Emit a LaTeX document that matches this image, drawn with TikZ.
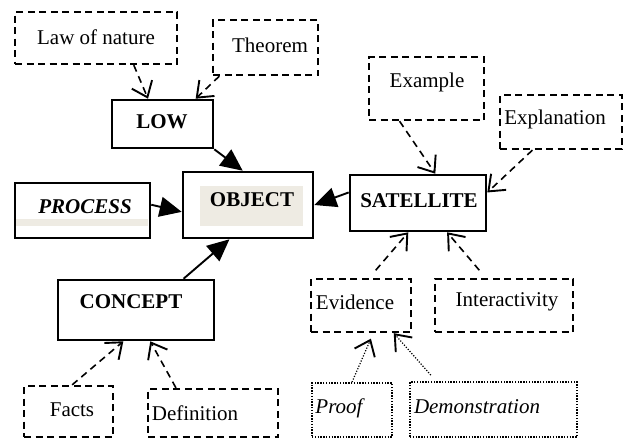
\documentclass[tikz,border=0pt]{standalone}
\usepackage{fontspec}
\setmainfont{Liberation Serif}
\usetikzlibrary{arrows.meta,calc}
\definecolor{shade}{HTML}{EEEBE3}
\begin{document}
\begin{tikzpicture}[x=1pt,y=-1pt,
  sbox/.style={draw,line width=2.6pt,inner sep=0pt},
  dbox/.style={draw,line width=2.3pt,dash pattern=on 7pt off 4.5pt,inner sep=0pt},
  obox/.style={draw,line width=1.8pt,dash pattern=on 1.4pt off 1.4pt,inner sep=0pt},
  txt/.style={font=\fontsize{21}{25}\selectfont,inner sep=0pt},
  btxt/.style={font=\fontsize{21}{25}\selectfont\bfseries,inner sep=0pt},
  solidarrow/.style={line width=1.9pt,-{Triangle[length=22pt,width=20pt]}},
  dasharrow/.style={line width=1.6pt,dash pattern=on 7pt off 5pt,-{Straight Barb[length=14pt,width=22pt,line width=1.9pt]}},
  dotarrow/.style={line width=1.2pt,dash pattern=on 1.2pt off 1.6pt,-{Straight Barb[length=14pt,width=22pt,line width=1.9pt]}},
  sz/.style 2 args={minimum width=#1,minimum height=#2}]
\useasboundingbox (0,0) rectangle (624,439);
% boxes
\node[dbox,sz={162pt}{52pt}] (law) at (96,38) {};
\node[txt] (lawt) at (96,37) {Law of nature};
\node[dbox,sz={105pt}{55pt}] (thm) at (265.5,47.5) {};
\node[txt] (thmt) at (270,45) {Theorem};
\node[sbox,sz={101pt}{48pt}] (low) at (162.5,124) {};
\node[btxt] (lowt) at (162,122) {LOW};
\node[sbox,sz={130pt}{66pt}] (obj) at (248,205) {};
\node[fill=shade,inner sep=0pt,sz={103pt}{40pt}] (objs) at (251.5,206) {};
\node[btxt] (objt) at (252,200) {OBJECT};
\node[sbox,sz={135pt}{55pt}] (proc) at (82.5,210.5) {};
\node[fill=shade,inner sep=0pt,sz={132pt}{7pt}] (procs) at (82,222.5) {};
\node[btxt,font=\fontsize{21}{25}\selectfont\bfseries\itshape] (proct) at (85,207) {PROCESS};
\node[sbox,sz={136pt}{56pt}] (sat) at (418,203) {};
\node[btxt] (satt) at (419,201) {SATELLITE};
\node[sbox,sz={156pt}{60pt}] (con) at (136,310) {};
\node[btxt] (cont) at (131,302) {CONCEPT};
\node[dbox,sz={115pt}{63pt}] (ex) at (426.5,88.5) {};
\node[txt] (ext) at (427,82) {Example};
\node[dbox,sz={122pt}{54pt}] (expl) at (561,122) {};
\node[txt] (explt) at (555,119) {Explanation};
\node[dbox,sz={100pt}{53pt}] (evid) at (361,305.5) {};
\node[txt] (evidt) at (355,302) {Evidence};
\node[dbox,sz={138pt}{53pt}] (inter) at (504,305.5) {};
\node[txt] (intert) at (507,302) {Interactivity};
\node[dbox,sz={89pt}{51pt}] (facts) at (68.5,411.5) {};
\node[txt] (factst) at (72,410) {Facts};
\node[dbox,sz={130pt}{48pt}] (def) at (213,413) {};
\node[txt] (deft) at (195,413) {Definition};
\node[obox,sz={80pt}{54pt}] (proof) at (352,410) {};
\node[txt,font=\fontsize{21}{25}\selectfont\itshape] (prooft) at (339,408) {Proof};
\node[obox,sz={167pt}{55pt}] (demo) at (493.5,409.5) {};
\node[txt,font=\fontsize{21}{25}\selectfont\itshape] (demot) at (477,407) {Demonstration};
% arrows
\draw[dasharrow] ($(law.south west)!0.73!(law.south east)$) -- ($(low.north west)!0.36!(low.north east)$);
\draw[dasharrow] ($(thm.south west)!0.07!(thm.south east)$) -- ($(low.north west)!0.82!(low.north east)$);
\draw[solidarrow] (low.south east) -- ($(obj.north west)!0.46!(obj.north east)$);
\draw[solidarrow] ($(proc.north east)!0.4!(proc.south east)$) -- ($(obj.north west)!0.6!(obj.south west)$);
\draw[solidarrow] ($(sat.north west)!0.32!(sat.south west)$) -- (obj.east);
\draw[solidarrow] ($(con.north west)!0.8!(con.north east)$) -- ($(obj.south west)!0.36!(obj.south east)$);
\draw[dasharrow] ($(ex.south west)!0.27!(ex.south east)$) -- ($(sat.north west)!0.625!(sat.north east)$);
\draw[dasharrow] ($(expl.south west)!0.27!(expl.south east)$) -- ($(sat.north east)!0.32!(sat.south east)$);
\draw[dasharrow,shorten <=10pt] ($(evid.north west)!0.58!(evid.north east)$) -- ($(sat.south west)!0.43!(sat.south east)$);
\draw[dasharrow,shorten <=10pt] ($(inter.north west)!0.37!(inter.north east)$) -- ($(sat.south west)!0.71!(sat.south east)$);
\draw[dasharrow] ($(facts.north west)!0.54!(facts.north east)$) -- ($(con.south west)!0.42!(con.south east)$);
\draw[dasharrow] ($(def.north west)!0.22!(def.north east)$) -- ($(con.south west)!0.59!(con.south east)$);
\draw[dotarrow,shorten >=6pt] ($(proof.north west)!0.5!(proof.north east)$) -- ($(evid.south west)!0.62!(evid.south east)$);
\draw[dotarrow,shorten <=8pt] ($(demo.north west)!0.16!(demo.north east)$) -- ($(evid.south west)!0.82!(evid.south east)$);
\end{tikzpicture}
\end{document}
